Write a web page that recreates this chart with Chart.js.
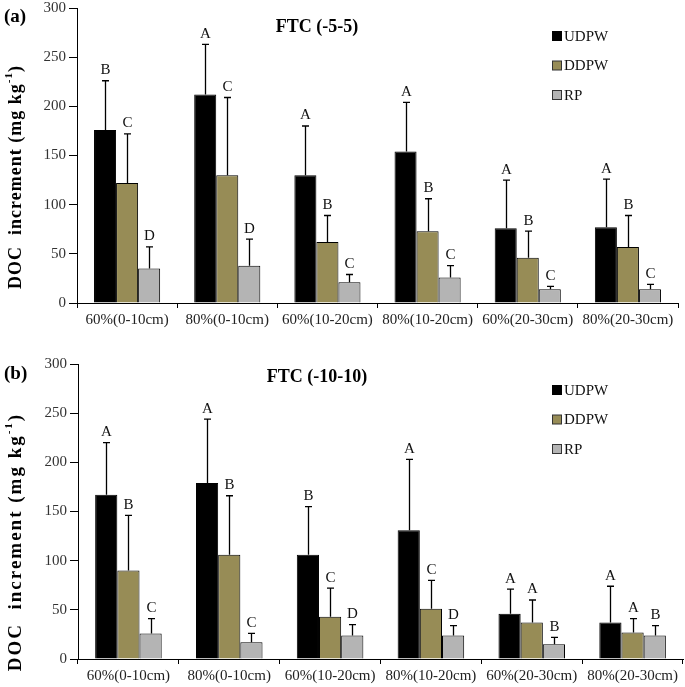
<!DOCTYPE html>
<html><head><meta charset="utf-8">
<script src="https://cdn.jsdelivr.net/npm/chart.js@4.4.1/dist/chart.umd.min.js"></script>
<style>
html,body{margin:0;padding:0;background:#fff;width:685px;height:687px;overflow:hidden;position:relative}
canvas{position:absolute;left:0}
#ca{top:-4px}
#cb{top:352px}
</style></head><body>
<canvas id="ca" width="685" height="344"></canvas>
<canvas id="cb" width="685" height="335"></canvas>
<script>
const categories = ['60%(0-10cm)','80%(0-10cm)','60%(10-20cm)','80%(10-20cm)','60%(20-30cm)','80%(20-30cm)'];
const seriesNames = ['UDPW','DDPW','RP'];
const seriesColors = ['#000000','#978c56','#b4b4b4'];
const yTicks = [0,50,100,150,200,250,300];

// Panel (a) FTC (-5-5)
const udpwA = [176,212,130,154,76,77];
const ddpwA = [122,130,62,73,46,57];
const rpA   = [35,38,21,26,14,14];
const udpwAsd = [50,51,50,50,49,49];
const ddpwAsd = [50,79,27,33,27,32];
const rpAsd   = [22,27,8,12,3,5];
const udpwAlet = ['B','A','A','A','A','A'];
const ddpwAlet = ['C','C','B','B','B','B'];
const rpAlet   = ['D','D','C','C','C','C'];

// Panel (b) FTC (-10-10)
const udpwB = [167,179,106,131,46,37];
const ddpwB = [90,106,43,51,37,27];
const rpB   = [26,17,24,24,15,24];
const udpwBsd = [53,65,49,72,25,37];
const ddpwBsd = [56,60,29,29,23,14];
const rpBsd   = [15,9,11,10,7,10];
const udpwBlet = ['A','A','B','A','A','A'];
const ddpwBlet = ['B','B','C','C','A','A'];
const rpBlet   = ['C','C','D','D','B','B'];

const SERIF = '"Liberation Serif","Times New Roman",serif';

const decor = {
  id: 'decor',
  afterDatasetsDraw(chart, args, o) {
    const ctx = chart.ctx;
    const ys = chart.scales.y;
    const ca = chart.chartArea;
    ctx.save();
    // error bars + letters
    chart.data.datasets.forEach((ds, di) => {
      const meta = chart.getDatasetMeta(di);
      meta.data.forEach((bar, i) => {
        const top = ys.getPixelForValue(ds.data[i] + ds.sd[i]);
        const x = Math.round(bar.x) + 0.5;
        ctx.strokeStyle = '#000';
        ctx.lineWidth = 1.3;
        ctx.beginPath();
        ctx.moveTo(x, bar.y);
        ctx.lineTo(x, top);
        ctx.moveTo(x - 3.5, top);
        ctx.lineTo(x + 3.5, top);
        ctx.stroke();
        ctx.fillStyle = '#111';
        ctx.font = '15px ' + SERIF;
        ctx.textAlign = 'center';
        ctx.textBaseline = 'bottom';
        ctx.fillText(ds.letters[i], x, top - 3);
      });
    });
    // legend
    ctx.textAlign = 'left';
    ctx.textBaseline = 'middle';
    ctx.font = '15px ' + SERIF;
    chart.data.datasets.forEach((ds, di) => {
      const cy = ca.top + o.legendTop + di * 29.5;
      ctx.fillStyle = ds.backgroundColor;
      ctx.fillRect(552, cy - 4.5, 9, 9);
      ctx.strokeStyle = di === 0 ? '#000' : '#333';
      ctx.lineWidth = 1;
      ctx.strokeRect(552.5, cy - 4.5, 9, 9);
      ctx.fillStyle = '#111';
      ctx.fillText(ds.label, 564, cy + 1);
    });
    // title
    ctx.font = 'bold 18px ' + SERIF;
    ctx.textAlign = 'center';
    ctx.fillStyle = '#000';
    ctx.fillText(o.title, o.titleX, ca.top + o.titleDy);
    // panel label
    ctx.font = 'bold 19px ' + SERIF;
    ctx.textAlign = 'left';
    ctx.fillText(o.panel, 4, ca.top + o.panelDy);
    // y-axis title with superscript
    ctx.translate(o.yTitleX, ca.top + o.yTitleDy);
    ctx.rotate(-Math.PI / 2);
    ctx.letterSpacing = o.yTitleSpacing + 'px';
    const big = 'bold ' + o.yTitleSize + 'px ' + SERIF;
    const small = 'bold ' + Math.round(o.yTitleSize * 0.6) + 'px ' + SERIF;
    const parts = [['DOC  increment (mg kg', big, 0], ['-1', small, -7], [')', big, 0]];
    let total = 0;
    parts.forEach(p => { ctx.font = p[1]; p.push(ctx.measureText(p[0]).width); total += p[3]; });
    let px = -total / 2;
    ctx.textAlign = 'left';
    ctx.textBaseline = 'middle';
    parts.forEach(p => { ctx.font = p[1]; ctx.fillText(p[0], px, p[2]); px += p[3]; });
    ctx.restore();
  }
};

function makeChart(id, vals, sds, lets, o, xAxisH, yAxisW, padRight) {
  new Chart(document.getElementById(id), {
    type: 'bar',
    data: {
      labels: categories,
      datasets: seriesNames.map((n, k) => ({
        label: n,
        data: vals[k],
        sd: sds[k],
        letters: lets[k],
        backgroundColor: seriesColors[k],
        borderColor: '#000',
        borderWidth: 1,
        categoryPercentage: 0.66,
        barPercentage: 1.0
      }))
    },
    options: {
      responsive: false,
      animation: false,
      devicePixelRatio: 1,
      layout: { padding: { top: 10, right: padRight, left: 0, bottom: 0 } },
      plugins: { legend: { display: false }, tooltip: { enabled: false }, decor: o },
      scales: {
        x: {
          grid: { display: true, drawOnChartArea: false, drawTicks: true, tickLength: 5, color: '#000', offset: true },
          border: { display: true, color: '#000', width: 1 },
          ticks: { color: '#222', font: { family: SERIF, size: 15 }, padding: 3, maxRotation: 0, autoSkip: false },
          afterFit(s) { s.height = xAxisH; }
        },
        y: {
          min: 0, max: 300,
          afterBuildTicks(s) { s.ticks = yTicks.map(v => ({ value: v })); },
          grid: { display: true, drawOnChartArea: false, drawTicks: true, tickLength: 8, color: '#000' },
          border: { display: true, color: '#000', width: 1 },
          ticks: { color: '#333', font: { family: SERIF, size: 15 }, padding: 3 },
          afterFit(s) { s.width = yAxisW; }
        }
      }
    },
    plugins: [decor]
  });
}

makeChart('ca', [udpwA, ddpwA, rpA], [udpwAsd, ddpwAsd, rpAsd], [udpwAlet, ddpwAlet, rpAlet],
  { title: 'FTC (-5-5)', titleX: 317, titleDy: 19, panel: '(a)', panelDy: 9, legendTop: 28,
    yTitleX: 16, yTitleDy: 169, yTitleSize: 18, yTitleSpacing: 1 }, 37, 77, 7);
makeChart('cb', [udpwB, ddpwB, rpB], [udpwBsd, ddpwBsd, rpBsd], [udpwBlet, ddpwBlet, rpBlet],
  { title: 'FTC (-10-10)', titleX: 317, titleDy: 13, panel: '(b)', panelDy: 10, legendTop: 26,
    yTitleX: 16, yTitleDy: 178, yTitleSize: 19, yTitleSpacing: 2 }, 28, 78, 2);
</script>
</body></html>
